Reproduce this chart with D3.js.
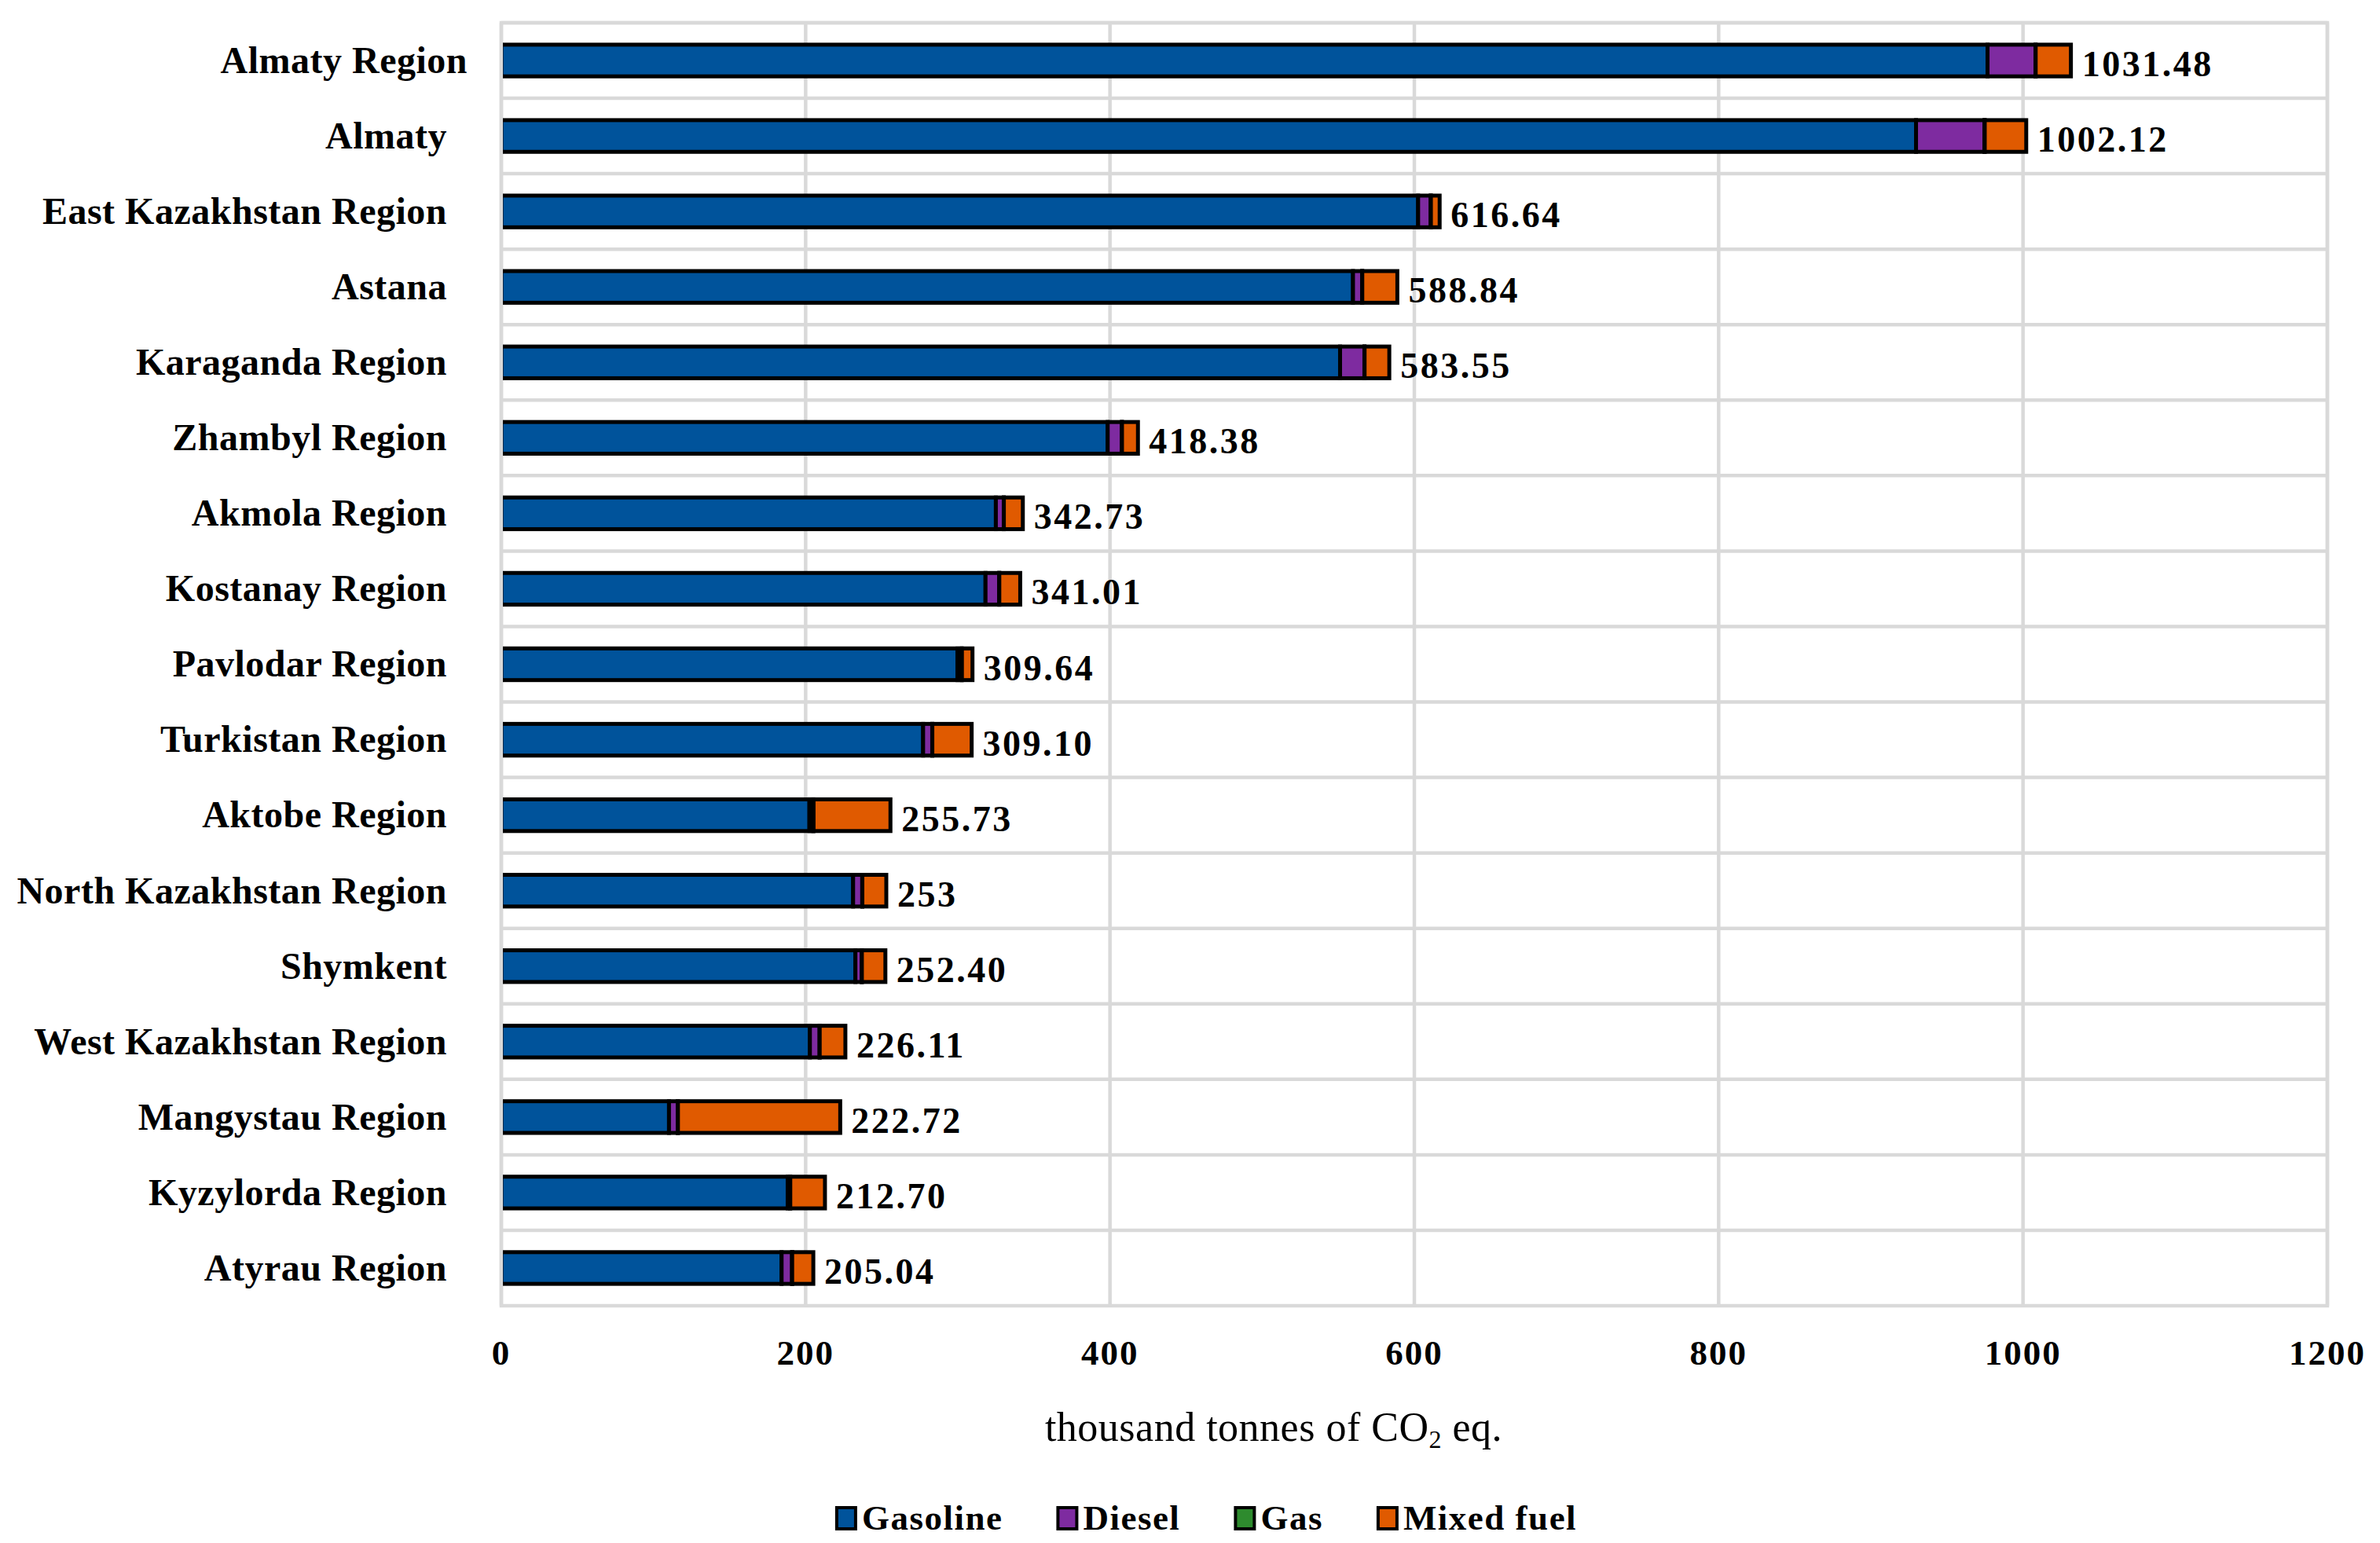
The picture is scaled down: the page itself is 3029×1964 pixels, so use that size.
<!DOCTYPE html>
<html>
<head>
<meta charset="utf-8">
<script src="https://cdn.jsdelivr.net/npm/d3@7"></script>
<style>
  body { margin: 0; background: #fff; }
  svg { display: block; }
  text { font-family: "Liberation Serif", "Times New Roman", serif; fill: #000; }
</style>
</head>
<body>
<svg id="chart"></svg>
<script>
const regions = [
  "Almaty Region", "Almaty", "East Kazakhstan Region", "Astana", "Karaganda Region",
  "Zhambyl Region", "Akmola Region", "Kostanay Region", "Pavlodar Region", "Turkistan Region",
  "Aktobe Region", "North Kazakhstan Region", "Shymkent", "West Kazakhstan Region",
  "Mangystau Region", "Kyzylorda Region", "Atyrau Region"
];
const totalLabels = [
  "1031.48", "1002.12", "616.64", "588.84", "583.55", "418.38", "342.73", "341.01",
  "309.64", "309.10", "255.73", "253", "252.40", "226.11", "222.72", "212.70", "205.04"
];
const gasoline = [976.7, 929.7, 602.5, 559.7, 551.2, 398.5, 325.0, 318.2, 299.8, 277.2, 202.5, 231.2, 232.7, 202.8, 110.2, 188.2, 184.2];
const diesel = [31.5, 45.0, 8.3, 6.0, 16.0, 9.3, 5.2, 9.0, 2.6, 6.0, 2.4, 6.0, 4.2, 6.4, 5.8, 1.5, 6.9];
const gas = [0.12, 0.15, 0.08, 0.1, 0.11, 0.09, 0.06, 0.07, 0.3, 0.05, 0.3, 0.06, 0.05, 0.04, 0.08, 0.2, 0.05];
const mixedFuel = [23.16, 27.27, 5.76, 23.04, 16.24, 10.49, 12.47, 13.74, 6.94, 25.85, 50.53, 15.74, 15.45, 16.87, 106.64, 22.8, 13.89];
const fuels = ["Gasoline", "Diesel", "Gas", "Mixed fuel"];
const fuelColors = ["#00539b", "#7e2ba0", "#2e8b2e", "#e05a00"];
const xTicks = [0, 200, 400, 600, 800, 1000, 1200];

let width = 3029;
let height = 1964;
let plot = { left: 638, right: 2962, top: 29, bottom: 1662 };

let svg = d3.select("#chart")
  .attr("width", width)
  .attr("height", height)
  .attr("viewBox", `0 0 ${width} ${height}`);

let rows = regions.map((r, i) => ({
  region: r,
  label: totalLabels[i],
  "Gasoline": gasoline[i],
  "Diesel": diesel[i],
  "Gas": gas[i],
  "Mixed fuel": mixedFuel[i]
}));

let x = d3.scaleLinear().domain([0, 1200]).range([plot.left, plot.right]);
let y = d3.scaleBand().domain(regions).range([plot.top, plot.bottom]).paddingInner(0.58).paddingOuter(0.29);
let band = d3.scaleBand().domain(regions).range([plot.top, plot.bottom]);
let color = d3.scaleOrdinal().domain(fuels).range(fuelColors);

let gridColor = "#d9d9d9";

// gridlines
let grid = svg.append("g");
grid.selectAll(".vgrid")
  .data(xTicks)
  .join("line")
  .attr("x1", (d) => x(d))
  .attr("x2", (d) => x(d))
  .attr("y1", plot.top)
  .attr("y2", plot.bottom)
  .style("stroke", gridColor)
  .style("stroke-width", 4.5);

grid.selectAll(".hgrid")
  .data(regions)
  .join("line")
  .attr("x1", plot.left)
  .attr("x2", plot.right)
  .attr("y1", (d) => band(d))
  .attr("y2", (d) => band(d))
  .style("stroke", gridColor)
  .style("stroke-width", 4.5);

grid.append("rect")
  .attr("x", plot.left)
  .attr("y", plot.top)
  .attr("width", plot.right - plot.left)
  .attr("height", plot.bottom - plot.top)
  .style("fill", "none")
  .style("stroke", gridColor)
  .style("stroke-width", 4.5);

svg.append("clipPath")
  .attr("id", "plot-clip")
  .append("rect")
  .attr("x", plot.left + 2)
  .attr("y", plot.top)
  .attr("width", plot.right - plot.left)
  .attr("height", plot.bottom - plot.top);

// stacked bars
let series = d3.stack().keys(fuels)(rows);

svg.append("g")
  .attr("clip-path", "url(#plot-clip)")
  .selectAll("g")
  .data(series)
  .join("g")
  .style("fill", (d) => color(d.key))
  .selectAll("rect")
  .data((d) => d)
  .join("rect")
  .attr("x", (d) => x(d[0]))
  .attr("y", (d) => y(d.data.region))
  .attr("width", (d) => x(d[1]) - x(d[0]))
  .attr("height", y.bandwidth())
  .style("stroke", "#000")
  .style("stroke-width", 5);

// category labels
svg.append("g")
  .selectAll("text")
  .data(regions)
  .join("text")
  .attr("x", 569)
  .attr("dx", (d, i) => (i === 0 ? 26 : 0))
  .attr("y", (d) => band(d) + band.bandwidth() / 2)
  .attr("dy", "0.33em")
  .attr("text-anchor", "end")
  .style("font-size", "48px")
  .style("font-weight", "bold")
  .style("letter-spacing", "0.5px")
  .text((d) => d);

// total labels
let last = series[series.length - 1];
svg.append("g")
  .selectAll("text")
  .data(last)
  .join("text")
  .attr("x", (d) => x(d[1]) + 14)
  .attr("y", (d) => band(d.data.region) + band.bandwidth() / 2 + 20)
  .style("font-size", "46px")
  .style("font-weight", "bold")
  .style("letter-spacing", "2.5px")
  .text((d) => d.data.label);

// x tick labels
svg.append("g")
  .selectAll("text")
  .data(xTicks)
  .join("text")
  .attr("x", (d) => x(d))
  .attr("y", 1737)
  .attr("text-anchor", "middle")
  .style("font-size", "45px")
  .style("font-weight", "bold")
  .style("letter-spacing", "2px")
  .text((d) => d);

// axis title
let title = svg.append("text")
  .attr("x", 1621)
  .attr("y", 1834)
  .attr("text-anchor", "middle")
  .style("font-size", "52px")
  .style("letter-spacing", "0.5px");
title.append("tspan").text("thousand tonnes of CO");
title.append("tspan").attr("dy", 9).style("font-size", "32px").text("2");
title.append("tspan").attr("dy", -9).text(" eq.");

// legend
let legend = svg.append("g");
let items = legend.selectAll("g")
  .data(fuels)
  .join("g");

items.append("rect")
  .attr("x", 0)
  .attr("y", -15)
  .attr("width", 24)
  .attr("height", 27)
  .style("fill", (d) => color(d))
  .style("stroke", "#000")
  .style("stroke-width", 4);

items.append("text")
  .attr("x", 32)
  .attr("y", 13)
  .style("font-size", "45px")
  .style("font-weight", "bold")
  .style("letter-spacing", "1.5px")
  .text((d) => d);

let gap = 70;
let offsets = [];
let cursor = 0;
items.each(function () {
  offsets.push(cursor);
  let w = 32 + d3.select(this).select("text").node().getComputedTextLength();
  cursor += w + gap;
});
let legendWidth = cursor - gap;
items.attr("transform", (d, i) => `translate(${offsets[i]},0)`);
legend.attr("transform", `translate(${1536 - legendWidth / 2},1934)`);
</script>
</body>
</html>
